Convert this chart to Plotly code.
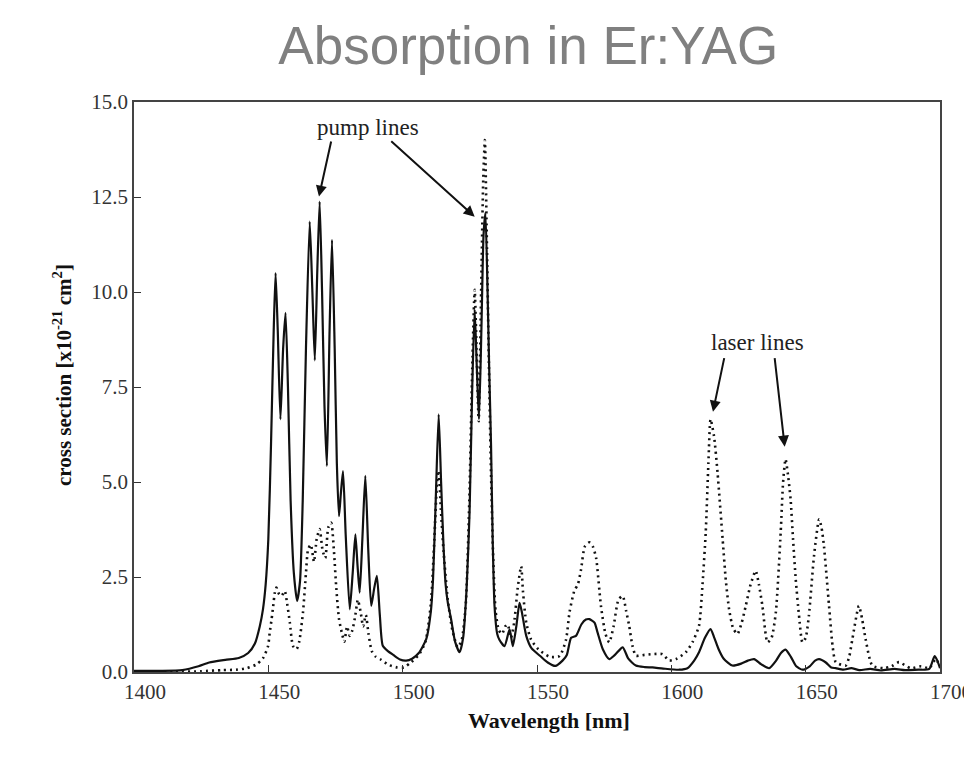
import plotly.graph_objects as go

# Solid curve (one polarization)
solid_x = [1400, 1410, 1418, 1424, 1428, 1434, 1439, 1442.5, 1445, 1446.8, 1448, 1449, 1450, 1451, 1452, 1452.7,
           1453.5, 1454.5, 1455.5, 1456.4, 1457.3, 1458.3, 1459.5, 1460.7, 1461.8, 1462.8, 1464, 1465.4, 1466.4,
           1467.3, 1468.2, 1469.1, 1470, 1470.9, 1471.8, 1472.8, 1473.7, 1474.7, 1475.5, 1476.3, 1477, 1477.8,
           1478.8, 1480.3, 1481.4, 1482.4, 1483.2, 1484, 1485, 1486.1, 1487.2, 1488.3, 1489.4, 1490.4, 1491.5,
           1492.6, 1494.5, 1496.5, 1499, 1501.3, 1503.5, 1506, 1508.8, 1510.5, 1511.3, 1512.3, 1513.4, 1514.3,
           1515.2, 1516, 1516.8, 1518, 1519.5, 1521.2, 1522.5, 1523.8, 1524.9, 1525.9, 1526.8, 1527.6, 1528.4,
           1529.3, 1530.1, 1530.8, 1531.6, 1532.2, 1532.9, 1533.5, 1534.2, 1535.2, 1536, 1537.9, 1539.8, 1541,
           1542.3, 1543.5, 1544.3, 1546, 1548, 1551.2, 1554, 1556.8, 1559.5, 1561.1, 1562.7, 1564.5, 1566.5,
           1568.2, 1569.5, 1571.4, 1572.5, 1574.5, 1576.9, 1579, 1581.9, 1584, 1586.8, 1590, 1593, 1597, 1602.9,
           1606, 1608.5, 1610.3, 1612.5, 1614.6, 1616, 1617.6, 1619.5, 1622.7, 1626, 1628.5, 1630.8, 1633.5,
           1636.4, 1639, 1640.8, 1642.5, 1644.5, 1646.5, 1648.8, 1651.5, 1653.5, 1655, 1657.5, 1659.5, 1661.2,
           1664, 1667, 1670, 1674, 1678, 1683, 1687, 1692, 1696, 1698, 1699, 1700]
solid_y = [0.03, 0.03, 0.05, 0.15, 0.25, 0.32, 0.37, 0.5, 0.75, 1.2, 1.65, 2.3, 3.5, 6.0, 9.0, 10.5,
           9.0, 6.65, 8.5, 9.45, 7.5, 4.5, 2.6, 1.87, 2.4, 4.5, 8.5, 11.85, 10.0,
           8.2, 10.5, 12.38, 10.0, 7.0, 5.42, 9.0, 11.37, 8.5, 5.5, 4.1, 4.7, 5.29,
           3.6, 1.65, 2.6, 3.62, 2.8, 2.09, 3.5, 5.16, 3.2, 1.74, 2.2, 2.53, 1.5,
           0.69, 0.55, 0.45, 0.33, 0.3, 0.35, 0.5, 0.87, 1.6, 2.44, 4.5, 6.78, 5.0,
           3.32, 2.3, 1.83, 1.4, 0.8, 0.52, 0.9, 2.2, 4.2, 7.5, 9.54, 8.0, 6.65,
           9.0, 11.5, 12.08, 10.0, 8.0, 5.94, 3.5, 1.73, 1.0, 0.85, 0.68, 1.12, 0.68,
           1.2, 1.82, 1.6, 0.95, 0.62, 0.42, 0.25, 0.16, 0.3, 0.45, 0.9, 0.95, 1.25,
           1.38, 1.39, 1.3, 1.05, 0.6, 0.34, 0.45, 0.65, 0.35, 0.17, 0.13, 0.12, 0.09, 0.06,
           0.1, 0.3, 0.52, 0.9, 1.13, 0.9, 0.6, 0.35, 0.17, 0.22, 0.3, 0.34, 0.2,
           0.1, 0.3, 0.5, 0.59, 0.4, 0.15, 0.06, 0.15, 0.3, 0.34, 0.25, 0.12, 0.1,
           0.06, 0.1, 0.05, 0.08, 0.04, 0.08, 0.05, 0.06, 0.08, 0.42, 0.3, 0.1]

# Dotted curve (other polarization)
dotted_x = [1400, 1415, 1425, 1433, 1438, 1441.9, 1445.6, 1448, 1449.9, 1450.5, 1451.2, 1451.8, 1452.4, 1453,
            1454, 1454.9, 1456.1, 1457, 1458, 1459.2, 1460.5, 1461.5, 1462.9, 1464, 1464.8, 1465.8, 1467, 1468,
            1469.1, 1470.2, 1471.2, 1472.3, 1473.4, 1474.4, 1475.3, 1476.3, 1477.3, 1478.3, 1479.3, 1480.3,
            1481.3, 1482.4, 1483.3, 1484.3, 1485.3, 1486.3, 1487.3, 1488.5, 1490, 1492, 1495, 1498, 1500.5,
            1503, 1506, 1508.5, 1510.5, 1511.8, 1512.8, 1513.4, 1514.2, 1515.2, 1516.8, 1518.5, 1520.5, 1522,
            1523.5, 1524.8, 1525.9, 1526.8, 1527.5, 1528.3, 1529.2, 1530, 1530.6, 1531.3, 1532, 1532.8, 1533.7,
            1534.6, 1535.8, 1537, 1538.2, 1539.1, 1540.3, 1541.5, 1542.8, 1544.1, 1544.8, 1546, 1547.8, 1550.5,
            1554.7, 1558.4, 1560.8, 1562.1, 1563.9, 1565.2, 1566.4, 1567.8, 1569.5, 1570.8, 1572, 1573.8,
            1575.5, 1576.9, 1578.5, 1580.3, 1581.9, 1583.2, 1584.3, 1585.5, 1586.8, 1590, 1593, 1596.7, 1599.2,
            1602, 1605.4, 1608, 1610.3, 1611.6, 1612.8, 1613.8, 1614.6, 1615.9, 1617.2, 1619.1, 1620.3, 1621.5,
            1623, 1624.6, 1626.2, 1627.7, 1629.5, 1631.4, 1632.6, 1633.9, 1635.8, 1637.3, 1638.9, 1640.7,
            1641.6, 1642.5, 1643.4, 1644.4, 1645.3, 1646.3, 1647.5, 1648.8, 1650, 1651.2, 1653.1, 1655, 1655.9,
            1656.8, 1658.7, 1660, 1661.2, 1664.9, 1666.2, 1667.4, 1669.8, 1671, 1672.3, 1674.8, 1679, 1682,
            1684.7, 1689, 1693, 1696, 1698.4, 1700]
dotted_y = [0.0, 0.0, 0.02, 0.05, 0.06, 0.1, 0.2, 0.36, 0.68, 1.03, 1.38, 1.73, 2.08, 2.22,
            2.05, 2.0, 2.13, 1.8, 1.3, 0.68, 0.6, 0.8, 1.57, 2.6, 3.23, 3.35, 2.9, 3.5,
            3.76, 3.2, 3.0, 3.8, 3.93, 3.2, 2.2, 1.4, 1.05, 0.8, 1.2, 0.95,
            1.1, 1.5, 1.9, 1.6, 1.2, 1.5, 1.0, 0.55, 0.4, 0.32, 0.18, 0.12, 0.12,
            0.25, 0.45, 0.8, 1.8, 3.5, 5.0, 5.3, 4.3, 3.2, 1.9, 1.1, 0.65, 0.85,
            1.8, 4.5, 8.0, 10.06, 8.5, 6.6, 10.0, 13.0, 14.0, 11.5, 8.5, 5.5, 3.0,
            1.6, 1.1, 1.0, 1.2, 1.25, 0.9, 1.3, 2.2, 2.78, 2.1, 1.3, 0.85, 0.6,
            0.4, 0.42, 0.85, 1.57, 2.14, 2.3, 2.7, 3.3, 3.41, 3.3, 3.0, 1.74,
            1.0, 0.78, 1.2, 1.9, 2.0, 1.6, 1.22, 0.7, 0.43, 0.45, 0.47, 0.47, 0.3,
            0.35, 0.52, 0.8, 1.22, 2.3, 3.67, 5.5, 6.65, 6.2, 5.25, 3.49, 2.4, 1.65,
            1.15, 1.0, 1.3, 1.74, 2.3, 2.66, 2.3, 1.74, 0.78, 0.9, 1.57, 3.67,
            5.0, 5.6, 5.2, 4.54, 3.5, 2.44, 1.5, 0.78, 0.9, 1.48, 3.05, 4.02, 3.8,
            3.32, 1.74, 0.7, 0.26, 0.17, 0.4, 0.87, 1.74, 1.4, 0.87, 0.17, 0.1, 0.15,
            0.26, 0.1, 0.15, 0.1, 0.34, 0.15]

x_ticks = [1400, 1450, 1500, 1550, 1600, 1650, 1700]
y_ticks = [0.0, 2.5, 5.0, 7.5, 10.0, 12.5, 15.0]

serif = "Liberation Serif, Times New Roman, serif"

fig = go.Figure()
fig.add_trace(go.Scatter(x=dotted_x, y=dotted_y, mode="lines",
                         line=dict(color="#111111", width=2.6, dash="2px,4px", shape="spline", smoothing=0.6),
                         showlegend=False))
fig.add_trace(go.Scatter(x=solid_x, y=solid_y, mode="lines",
                         line=dict(color="#111111", width=2.2, shape="spline", smoothing=0.6),
                         showlegend=False))

arrow_style = dict(showarrow=True, arrowhead=2, arrowsize=1.1, arrowwidth=2, arrowcolor="#111111",
                   xref="x", yref="y", axref="x", ayref="y", text="")
annotations = [
    dict(x=1468.85, y=12.51, ax=1473.5, ay=14.0, **arrow_style),
    dict(x=1526.8, y=11.98, ax=1495.2, ay=14.0, **arrow_style),
    dict(x=1615.5, y=6.85, ax=1619.8, ay=8.3, **arrow_style),
    dict(x=1642.2, y=5.93, ax=1638.4, ay=8.3, **arrow_style),
    dict(x=1487.0, y=14.32, xref="x", yref="y", text="pump lines", showarrow=False,
         font=dict(family=serif, size=23, color="#222222")),
    dict(x=1632.1, y=8.66, xref="x", yref="y", text="laser lines", showarrow=False,
         font=dict(family=serif, size=23, color="#222222")),
    # y-axis title as a rotated annotation (reference sits slightly above the axis centre)
    dict(x=0, xref="paper", xanchor="center", xshift=-72, y=(672 - 375) / 570, yref="paper",
         yanchor="middle", textangle=-90, showarrow=False,
         text="<b>cross section [x10<sup>-21</sup> cm<sup>2</sup>]</b>",
         font=dict(family=serif, size=21, color="#111111")),
    # x-axis title (reference sits slightly right of the axis centre)
    dict(x=0.5, xref="paper", xanchor="center", xshift=12, y=0, yref="paper", yanchor="middle",
         yshift=-48, showarrow=False, text="<b>Wavelength [nm]</b>",
         font=dict(family=serif, size=22, color="#111111")),
]

fig.update_layout(
    width=964, height=775,
    margin=dict(l=134, r=24, t=102, b=103, autoexpand=False),
    paper_bgcolor="white", plot_bgcolor="white",
    title=dict(text="Absorption in Er:YAG", x=0.548, xanchor="center", y=1 - 45 / 775, yanchor="middle",
               yref="container",
               font=dict(family="Liberation Sans, Arial, sans-serif", size=53, color="#808080")),
    annotations=annotations,
    xaxis=dict(range=[1400, 1700], tickvals=x_ticks, ticktext=[str(v) for v in x_ticks],
               ticks="inside", ticklen=7, tickcolor="#333333", tickwidth=1,
               showline=True, mirror=True, linecolor="#444444", linewidth=1.6,
               showgrid=False, zeroline=False, ticklabelshift=11, ticklabeloverflow="allow",
               automargin=False,
               tickfont=dict(family=serif, size=21, color="#333333")),
    yaxis=dict(range=[0, 15], tickvals=y_ticks, ticktext=["%.1f" % v for v in y_ticks],
               ticks="inside", ticklen=7, tickcolor="#333333", tickwidth=1,
               showline=True, mirror=True, linecolor="#444444", linewidth=1.6,
               showgrid=False, zeroline=False, automargin=False,
               tickfont=dict(family=serif, size=21, color="#333333")),
)

fig.write_html("out.html")
